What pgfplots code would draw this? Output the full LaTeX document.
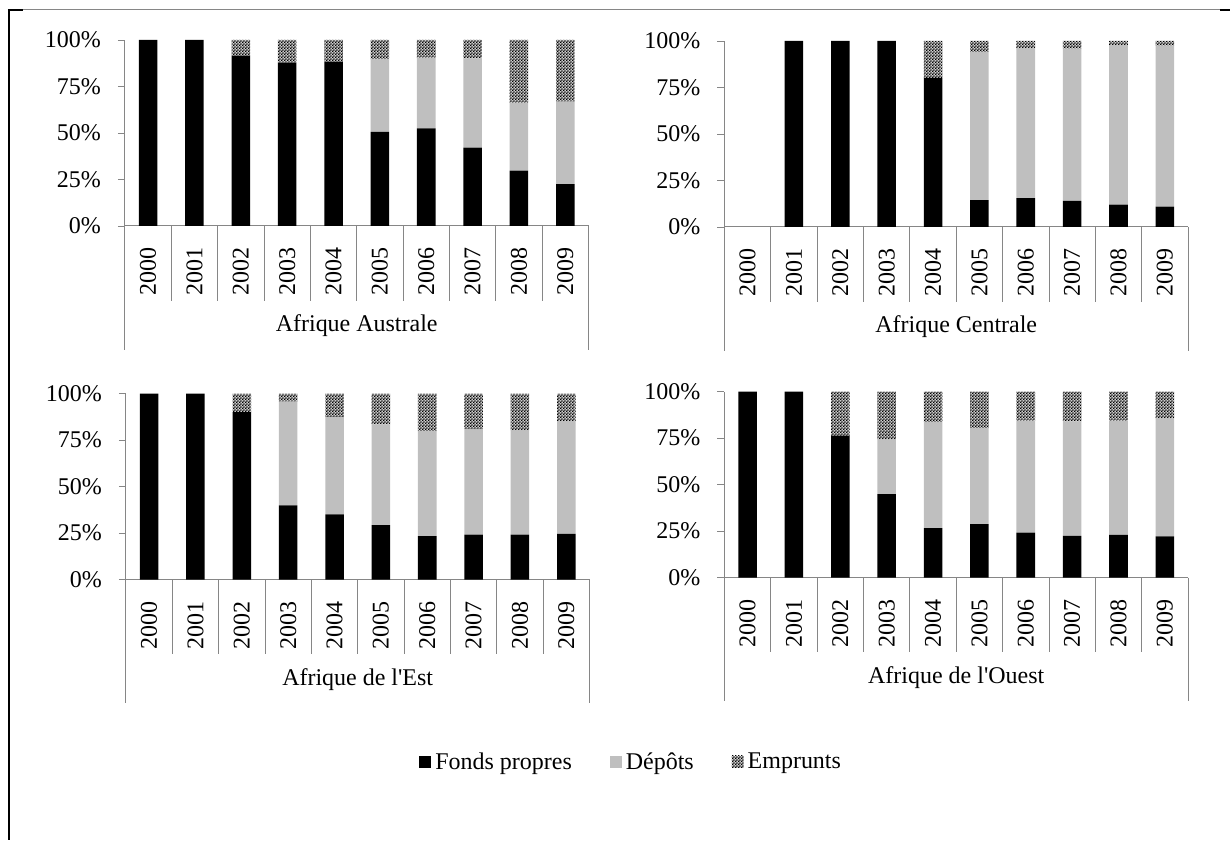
\documentclass[border=0pt]{standalone}
\usepackage{fontspec}
\setmainfont{Liberation Serif}
\usepackage{pgfplots}
\usepackage{pgfplotstable}
\pgfplotsset{compat=1.18}
\usetikzlibrary{patterns}

\definecolor{axisgray}{HTML}{868686}
\definecolor{depgray}{HTML}{BFBFBF}

% fine checkerboard, like the Excel 50% pattern
\pgfdeclarepatternformonly{finechecker}{\pgfpointorigin}{\pgfqpoint{1.6pt}{1.6pt}}{\pgfqpoint{1.6pt}{1.6pt}}{%
  \pgfpathrectangle{\pgfpointorigin}{\pgfqpoint{0.8pt}{0.8pt}}%
  \pgfpathrectangle{\pgfqpoint{0.8pt}{0.8pt}}{\pgfqpoint{0.8pt}{0.8pt}}%
  \pgfusepath{fill}}

% columns: year index, fonds propres, depots, emprunts (in %)
\pgfplotstableread{
x fp dep emp
0 100 0 0
1 100 0 0
2 91.6 0 8.4
3 87.8 0 12.2
4 88.4 0 11.6
5 50.5 39.1 10.4
6 52.5 38.0 9.5
7 42.1 48.0 9.9
8 29.7 36.6 33.7
9 22.4 44.4 33.2
}\australe

\pgfplotstableread{
x fp dep emp
0 0 0 0
1 100 0 0
2 100 0 0
3 100 0 0
4 80.1 0 19.9
5 14.3 79.8 5.9
6 15.4 80.8 3.8
7 14.0 81.9 4.1
8 12.0 85.8 2.2
9 10.9 86.6 2.5
}\centrale

\pgfplotstableread{
x fp dep emp
0 100 0 0
1 100 0 0
2 90.1 0 9.9
3 39.9 55.8 4.3
4 35.0 52.4 12.6
5 29.3 54.2 16.5
6 23.3 56.6 20.1
7 24.2 56.9 18.9
8 24.2 56.2 19.6
9 24.6 60.7 14.7
}\est

\pgfplotstableread{
x fp dep emp
0 100 0 0
1 100 0 0
2 76.3 0 23.7
3 44.9 29.6 25.5
4 26.6 57.1 16.3
5 28.7 51.7 19.6
6 24.2 60.2 15.6
7 22.4 61.6 16.0
8 23.0 61.4 15.6
9 22.1 63.7 14.2
}\ouest

\pgfplotsset{
  panel/.style={
    scale only axis, width=232pt, height=93pt,
    anchor=south west, clip=false,
    ybar stacked, bar width=0.4,
    xmin=-0.5, xmax=9.5, ymin=0, ymax=100,
    axis x line*=bottom, axis y line*=left,
    axis line style={draw=axisgray},
    xtick={0,...,9},
    xticklabels={2000,2001,2002,2003,2004,2005,2006,2007,2008,2009},
    x tick style={draw=none},
    xticklabel style={rotate=90, anchor=east},
    xticklabel shift=4pt,
    ytick={0,25,50,75,100},
    yticklabels={0\%,25\%,50\%,75\%,100\%},
    y tick style={draw=axisgray},
    tick align=outside, major tick length=3.5pt,
    yticklabel shift=5pt,
  },
  fp/.style={fill=black, draw=none},
  dep/.style={fill=depgray, draw=none},
  emp/.style={draw=none, fill=black!20, postaction={pattern=finechecker}},
}

\newcommand{\panelframe}[1]{%
  \pgfplotsinvokeforeach{0.5,1.5,...,8.5}{\draw[axisgray] (axis cs:##1,0) -- ++(0pt,-37.5pt);}
  \draw[axisgray] (axis cs:-0.5,0) -- ++(0pt,-62pt);
  \draw[axisgray] (axis cs:9.5,0) -- ++(0pt,-62pt);
  \node at (axis cs:4.5,0) [yshift=-50pt] {#1};
}

\begin{document}
\begin{tikzpicture}[font=\fontsize{12}{14}\selectfont]
\path (0,0) rectangle (615.5pt,-420.5pt);
% outer frame fragments
\draw[black, line width=1pt] (4.5pt,-5pt) -- (4.5pt,-420.5pt);
\draw[axisgray, line width=0.5pt] (4.5pt,-5pt) -- (610.5pt,-5pt);
\draw[black, line width=1pt] (4pt,-5pt) -- (11.5pt,-5pt);
\draw[black, line width=1pt] (610.5pt,-5pt) -- (615.5pt,-5pt);

\begin{axis}[panel, at={(62.5pt,-113pt)}]
  \addplot[fp] table[x=x, y=fp] {\australe};
  \addplot[dep] table[x=x, y=dep] {\australe};
  \addplot[emp] table[x=x, y=emp] {\australe};
  \panelframe{Afrique Australe}
\end{axis}

\begin{axis}[panel, at={(362.5pt,-113.5pt)}]
  \addplot[fp] table[x=x, y=fp] {\centrale};
  \addplot[dep] table[x=x, y=dep] {\centrale};
  \addplot[emp] table[x=x, y=emp] {\centrale};
  \panelframe{Afrique Centrale}
\end{axis}

\begin{axis}[panel, at={(63pt,-290pt)}]
  \addplot[fp] table[x=x, y=fp] {\est};
  \addplot[dep] table[x=x, y=dep] {\est};
  \addplot[emp] table[x=x, y=emp] {\est};
  \panelframe{Afrique de l\textquotesingle Est}
\end{axis}

\begin{axis}[panel, at={(362.5pt,-289pt)},
    legend columns=3,
    legend style={at={(-0.199,-0.995)}, anchor=center, draw=none, fill=none,
      /tikz/every even column/.append style={column sep=17pt}},
    legend image code/.code={\path[#1] (0pt,-2.6pt) rectangle (6pt,3.4pt);},
  ]
  \addplot[fp] table[x=x, y=fp] {\ouest};
  \addplot[dep] table[x=x, y=dep] {\ouest};
  \addplot[emp] table[x=x, y=emp] {\ouest};
  \panelframe{Afrique de l\textquotesingle Ouest}
  \legend{Fonds propres, Dépôts, Emprunts}
\end{axis}
\end{tikzpicture}
\end{document}
